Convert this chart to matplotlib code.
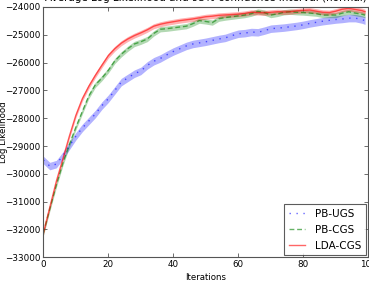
# -*- coding: UTF-8 -*-
import matplotlib
matplotlib.use("Agg")
import matplotlib.pyplot as plt

iters = list(range(0, 100, 2)) + [99]

lda_cgs = [-32130, -31200, -30270, -29470, -28650, -27900, -27300, -26850, -26460, -26100,
           -25750, -25500, -25300, -25150, -25030, -24930, -24820, -24690, -24620, -24570,
           -24530, -24490, -24460, -24430, -24390, -24350, -24330, -24300, -24285, -24270,
           -24255, -24230, -24190, -24200, -24210, -24190, -24170, -24180, -24170, -24140,
           -24120, -24110, -24150, -24190, -24200, -24150, -24080, -24050, -24090, -24130,
           -24170]

pb_cgs = [-32130, -31250, -30400, -29620, -28950, -28330, -27760, -27200, -26800, -26560,
          -26280, -25940, -25700, -25500, -25330, -25250, -25150, -24950, -24800, -24780,
          -24750, -24720, -24690, -24600, -24490, -24520, -24560, -24420, -24380, -24350,
          -24320, -24290, -24240, -24160, -24200, -24290, -24250, -24190, -24170, -24190,
          -24200, -24220, -24240, -24290, -24290, -24290, -24220, -24170, -24220, -24260,
          -24290]

pb_ugs = [-29500, -29720, -29650, -29350, -29000, -28650, -28350, -28100, -27850, -27550,
          -27300, -27000, -26700, -26550, -26400, -26300, -26100, -25950, -25850, -25720,
          -25600, -25500, -25400, -25330, -25290, -25250, -25200, -25150, -25110, -25030,
          -24960, -24940, -24900, -24910, -24850, -24780, -24760, -24740, -24710, -24680,
          -24640, -24590, -24550, -24510, -24480, -24450, -24430, -24400, -24400, -24450,
          -24490]

# half width of the 95% interval
ci_ugs = 135
ci_cgs = 95
ci_lda = 90

series = [
    ("PB-UGS", pb_ugs, ci_ugs, "blue", (0, (1, 4)), 0.3),
    ("PB-CGS", pb_cgs, ci_cgs, "green", (0, (3.5, 2)), 0.3),
    ("LDA-CGS", lda_cgs, ci_lda, "red", "-", 0.3),
]


def main():
    fig = plt.figure(figsize=(3.69, 2.85), dpi=100)
    ax = fig.add_axes([43.3 / 369, 27.7 / 285, 325 / 369, 250.3 / 285])

    for name, ys, ci, c, ls, a in series:
        lo = [y - ci for y in ys]
        hi = [y + ci for y in ys]
        ax.fill_between(iters, lo, hi, color=c, alpha=a, linewidth=0)
        ax.plot(iters, ys, color=c, linestyle=ls, linewidth=1, alpha=0.6, label=name)

    ax.set_xlim(0, 100)
    ax.set_ylim(-33000, -24000)
    ax.set_xticks([0, 20, 40, 60, 80, 100])
    ax.set_yticks(range(-33000, -23999, 1000))
    ax.tick_params(direction="in", length=3, width=0.6, top=True, right=True,
                   labelsize=6.3, pad=2, color="#555555")
    for s in ax.spines.values():
        s.set_color("#555555")
        s.set_linewidth(0.8)

    ax.set_title("Average Log Likelihood and 95% confidence interval (normal)",
                 fontsize=7.5, pad=4)
    ax.set_xlabel("Iterations", fontsize=6.2)
    ax.set_ylabel("Log Likelihood", fontsize=6.2)
    ax.xaxis.set_label_coords(0.5, -0.062)
    ax.yaxis.set_label_coords(-0.108, 0.5)

    leg = ax.legend(loc="lower right", fontsize=7.5, fancybox=False, handlelength=1.5,
                    borderaxespad=0.2, labelspacing=0.55, handletextpad=1.0, borderpad=0.45)
    leg.get_frame().set_edgecolor("#333333")
    leg.get_frame().set_linewidth(0.8)

    fig.savefig("out.png", dpi=100)


main()
